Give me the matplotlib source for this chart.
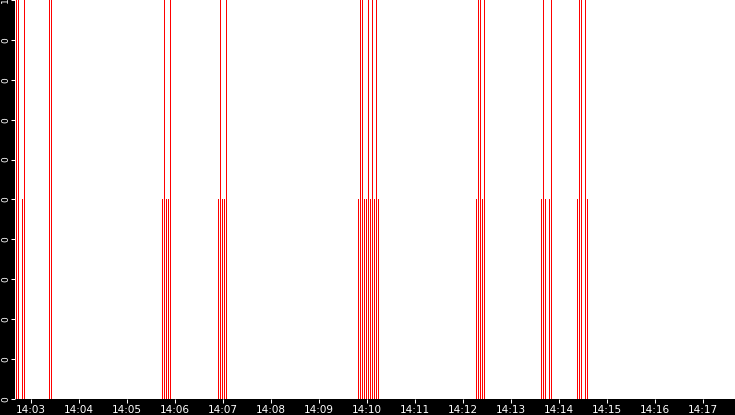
import matplotlib
matplotlib.use("Agg")
import matplotlib.pyplot as plt
from matplotlib.ticker import FixedLocator, FuncFormatter

# event times (hh:mm:ss) and their values
event_times = [
    "14:02:41", "14:02:43", "14:02:48", "14:02:51",
    "14:03:22", "14:03:25",
    "14:05:43", "14:05:46", "14:05:48", "14:05:51", "14:05:53",
    "14:06:53", "14:06:56", "14:06:58", "14:07:01", "14:07:03",
    "14:09:48", "14:09:51", "14:09:53", "14:09:56", "14:09:58",
    "14:10:01", "14:10:03", "14:10:06", "14:10:08", "14:10:11", "14:10:13",
    "14:12:16", "14:12:18", "14:12:21", "14:12:23", "14:12:26",
    "14:13:37", "14:13:40", "14:13:42", "14:13:47", "14:13:50",
    "14:14:22", "14:14:25", "14:14:27", "14:14:32", "14:14:35",
]
event_values = [
    1, 1, 0.5, 1,
    1, 1,
    0.5, 1, 0.5, 0.5, 1,
    0.5, 1, 0.5, 0.5, 1,
    0.5, 1, 1, 0.5, 0.5,
    1, 0.5, 1, 0.5, 1, 0.5,
    0.5, 1, 1, 0.5, 1,
    0.5, 1, 0.5, 0.5, 1,
    0.5, 1, 1, 1, 0.5,
]
x_tick_labels = ["14:03", "14:04", "14:05", "14:06", "14:07", "14:08", "14:09",
                 "14:10", "14:11", "14:12", "14:13", "14:14", "14:15", "14:16", "14:17"]
y_ticks = [0, 0.1, 0.2, 0.3, 0.4, 0.5, 0.6, 0.7, 0.8, 0.9, 1.0]


def to_sec(s):
    p = [int(v) for v in s.split(":")]
    sec = p[0] * 3600 + p[1] * 60 + (p[2] if len(p) > 2 else 0)
    return sec - 14 * 3600


xs = [to_sec(t) for t in event_times]
xt = [to_sec(t) for t in x_tick_labels]

W, H = 735, 415
fig = plt.figure(figsize=(W / 100, H / 100), dpi=100, facecolor="black")
ax = fig.add_axes([15 / W, 16 / H, 1 - 15 / W, 1 - 16 / H])
ax.set_facecolor("white")

ax.vlines(xs, 0, event_values, colors="#ff0000", linewidth=0.4, antialiased=False)

x0 = xt[0] - 16.3 * 1.25
ax.set_xlim(x0, x0 + 720 * 1.25)
ax.set_ylim(0, 1)

ax.xaxis.set_major_locator(FixedLocator(xt))
ax.set_xticklabels(x_tick_labels)
ax.yaxis.set_major_locator(FixedLocator(y_ticks))
ax.yaxis.set_major_formatter(FuncFormatter(lambda v, p: str(int(v + 1e-9))))

ax.tick_params(axis="x", colors="white", labelcolor="white", labelsize=7.5,
               length=3, width=0.75, pad=1, direction="out")
ax.tick_params(axis="y", colors="white", labelcolor="white", labelsize=6.5,
               length=3, width=0.75, pad=0.5, direction="out", labelrotation=90)
for lbl in ax.get_yticklabels():
    lbl.set_va("center")
for sp in ax.spines.values():
    sp.set_visible(False)

fig.savefig("out.png", dpi=100, facecolor="black")
